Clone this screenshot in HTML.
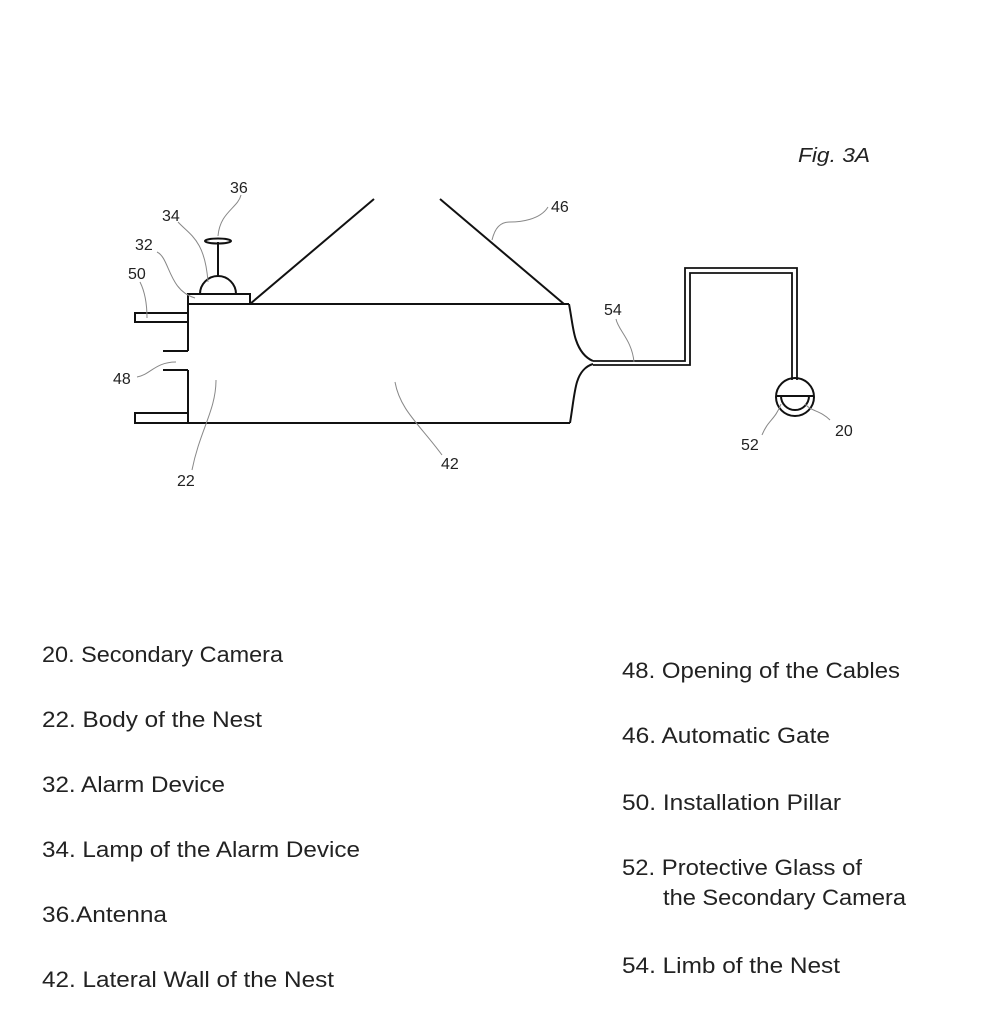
<!DOCTYPE html>
<html><head><meta charset="utf-8"><style>
html,body{margin:0;padding:0;background:#fff;}
svg{display:block;}
text{font-family:"Liberation Sans",sans-serif;fill:#222;}
</style></head><body>
<svg width="1000" height="1030" viewBox="0 0 1000 1030" xmlns="http://www.w3.org/2000/svg">
<g fill="none" stroke="#111" stroke-width="2">
  <!-- body -->
  <path d="M188,304 L569,304"/>
  <path d="M188,423 L570,423"/>
  <path d="M188,304 L188,351"/>
  <path d="M188,370 L188,423"/>
  <path d="M163,351 L188,351"/>
  <path d="M163,370 L188,370"/>
  <!-- pillars -->
  <rect x="135" y="313" width="53" height="9"/>
  <rect x="135" y="413" width="53" height="10"/>
  <!-- alarm -->
  <rect x="188" y="294" width="62" height="10"/>
  <path d="M200,294 A18,18 0 0 1 236,294"/>
  <path d="M218,276 L218,242"/>
  <ellipse cx="218" cy="241" rx="13" ry="2.5"/>
  <!-- gate -->
  <path d="M250,304 L374,199"/>
  <path d="M440,199 L564,304"/>
  <!-- right wall -->
  <path d="M569,304 C572,320 573,332 576,340 C580,352 586,358 593,361"/>
  <path d="M593,364 C586,366 580,372 577,382 C574,392 573,405 570,423"/>
  <!-- cable -->
  <path d="M593,361 L685,361 L685,268 L797,268 L797,380" stroke-width="1.8"/>
  <path d="M593,365 L690,365 L690,273 L792,273 L792,380" stroke-width="1.8"/>
  <!-- camera -->
  <circle cx="795" cy="397" r="19"/>
  <path d="M776,396 L814,396"/>
  <path d="M781,396 A14,14 0 0 0 809,396 Z"/>
</g>
<g fill="none" stroke="#888" stroke-width="1">
  <path d="M241,195 C238,208 220,212 218,236"/>
  <path d="M178,222 C190,235 205,240 208,282"/>
  <path d="M157,252 C170,258 168,290 195,298"/>
  <path d="M140,282 C145,292 147,305 147,318"/>
  <path d="M137,377 C150,375 155,362 176,362"/>
  <path d="M216,380 C216,410 200,430 192,470"/>
  <path d="M395,382 C400,410 420,425 442,455"/>
  <path d="M548,207 C540,220 520,222 510,222 C500,222 495,228 492,240"/>
  <path d="M616,319 C618,330 632,340 634,362"/>
  <path d="M781,404 C775,420 768,420 762,435"/>
  <path d="M805,404 C812,412 820,410 830,420"/>
</g>
<g font-size="16">
  <text x="230" y="193">36</text>
  <text x="162" y="221">34</text>
  <text x="135" y="250">32</text>
  <text x="128" y="279">50</text>
  <text x="113" y="384">48</text>
  <text x="177" y="486">22</text>
  <text x="441" y="469">42</text>
  <text x="551" y="212">46</text>
  <text x="604" y="315">54</text>
  <text x="741" y="450">52</text>
  <text x="835" y="436">20</text>
</g>
<text x="798" y="162" font-size="20" font-style="italic" textLength="72" lengthAdjust="spacingAndGlyphs">Fig. 3A</text>
<g font-size="22">
  <text x="42" y="662" textLength="241" lengthAdjust="spacingAndGlyphs">20. Secondary Camera</text>
  <text x="42" y="727" textLength="220" lengthAdjust="spacingAndGlyphs">22. Body of the Nest</text>
  <text x="42" y="792" textLength="183" lengthAdjust="spacingAndGlyphs">32. Alarm Device</text>
  <text x="42" y="857" textLength="318" lengthAdjust="spacingAndGlyphs">34. Lamp of the Alarm Device</text>
  <text x="42" y="922" textLength="125" lengthAdjust="spacingAndGlyphs">36.Antenna</text>
  <text x="42" y="987" textLength="292" lengthAdjust="spacingAndGlyphs">42. Lateral Wall of the Nest</text>
  <text x="622" y="678" textLength="278" lengthAdjust="spacingAndGlyphs">48. Opening of the Cables</text>
  <text x="622" y="743" textLength="208" lengthAdjust="spacingAndGlyphs">46. Automatic Gate</text>
  <text x="622" y="810" textLength="219" lengthAdjust="spacingAndGlyphs">50. Installation Pillar</text>
  <text x="622" y="875" textLength="240" lengthAdjust="spacingAndGlyphs">52. Protective Glass of</text>
  <text x="663" y="905" textLength="243" lengthAdjust="spacingAndGlyphs">the Secondary Camera</text>
  <text x="622" y="973" textLength="218" lengthAdjust="spacingAndGlyphs">54. Limb of the Nest</text>
</g>
</svg>
</body></html>
